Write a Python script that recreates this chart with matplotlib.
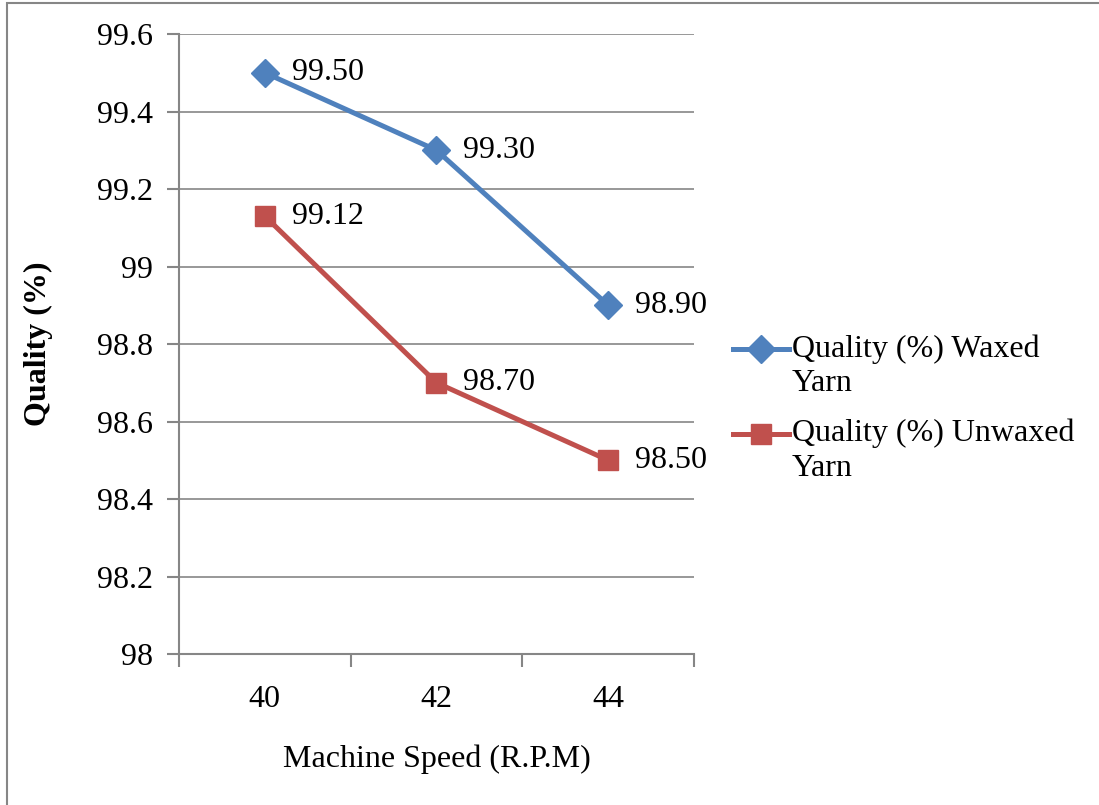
import matplotlib.pyplot as plt
import numpy as np
from matplotlib.patches import Rectangle
from matplotlib.legend_handler import HandlerLine2D

speeds = ['40', '42', '44']
waxed = [99.50, 99.30, 98.90]
unwaxed = [99.13, 98.70, 98.50]
waxed_labels = ['99.50', '99.30', '98.90']
unwaxed_labels = ['99.12', '98.70', '98.50']
yticks = [98, 98.2, 98.4, 98.6, 98.8, 99, 99.2, 99.4, 99.6]
ytick_labels = ['98', '98.2', '98.4', '98.6', '98.8', '99', '99.2', '99.4', '99.6']

plt.rcParams['font.family'] = ['Liberation Serif', 'DejaVu Serif']
FS = 23

W, H = 1099, 805
fig = plt.figure(figsize=(W / 100, H / 100), dpi=100)
ax = fig.add_axes([179 / W, 1 - 654 / H, (694 - 179) / W, (654 - 34) / H])

# outer chart frame
fig.patches.append(Rectangle((7 / W, -0.01), 1.1, 1 - 3 / H + 0.01, transform=fig.transFigure,
                             fill=False, edgecolor='#868686', linewidth=1.5))

blue = '#4F81BD'
red = '#C0504D'
gray = '#868686'

x = np.arange(len(speeds))
ax.plot(x, waxed, color=blue, linewidth=3.6, marker='D', markersize=14,
        label='Quality (%) Waxed\nYarn', zorder=3)
ax.plot(x, unwaxed, color=red, linewidth=3.6, marker='s', markersize=14,
        label='Quality (%) Unwaxed\nYarn', zorder=3)

for xi, v, t in zip(x, waxed, waxed_labels):
    ax.annotate(t, (xi, v), xytext=(27, 0), textcoords='offset pixels',
                va='center', ha='left', fontsize=FS)
for xi, v, t in zip(x, unwaxed, unwaxed_labels):
    ax.annotate(t, (xi, v), xytext=(27, 0), textcoords='offset pixels',
                va='center', ha='left', fontsize=FS)

ax.set_xlim(-0.5, 2.5)
ax.set_ylim(98, 99.6)
ax.set_yticks(yticks)
ax.set_yticklabels(ytick_labels, fontsize=FS)
ax.set_xticks([-0.5, 0.5, 1.5, 2.5])
ax.set_xticklabels([])
ax.set_xticks(x, minor=True)
ax.set_xticklabels(speeds, minor=True, fontsize=FS)
ax.tick_params(axis='x', which='major', length=9, color=gray, width=1.5, direction='out')
ax.tick_params(axis='x', which='minor', length=0, pad=22)
ax.tick_params(axis='y', length=9, color=gray, width=1.5, direction='out', pad=10)

ax.yaxis.grid(True, color=gray, linewidth=1.2)
ax.set_axisbelow(True)
for s in ['top', 'right']:
    ax.spines[s].set_visible(False)
for s in ['left', 'bottom']:
    ax.spines[s].set_color(gray)
    ax.spines[s].set_linewidth(1.5)

ax.set_xlabel('Machine Speed (R.P.M)', fontsize=FS)
ax.xaxis.set_label_coords(0.5, (654 - 745) / 620)
ax.xaxis.label.set_va('top')
ax.set_ylabel('Quality (%)', fontsize=FS, fontweight='bold')
ax.yaxis.set_label_coords((38 - 179) / 515, 0.5)
ax.yaxis.label.set_va('center')


# legend handle sits on the first text line, as in the original
class TopLineHandler(HandlerLine2D):
    def create_artists(self, legend, orig_handle, xdescent, ydescent, width, height,
                       fontsize, trans):
        shift = 12.5
        return super().create_artists(legend, orig_handle, xdescent, ydescent - 2 * shift,
                                      width, height, fontsize, trans)


handles, labels = ax.get_legend_handles_labels()
leg = fig.legend(handles, labels, loc='upper left', bbox_to_anchor=(733 / W, 1 - 334 / H),
                 frameon=False, fontsize=FS, handlelength=1.75, handletextpad=0.1,
                 labelspacing=0.65, borderaxespad=0, borderpad=0,
                 handler_map={h: TopLineHandler() for h in handles})
for t in leg.get_texts():
    t.set_linespacing(1.26)

fig.savefig('out.png', dpi=100)
